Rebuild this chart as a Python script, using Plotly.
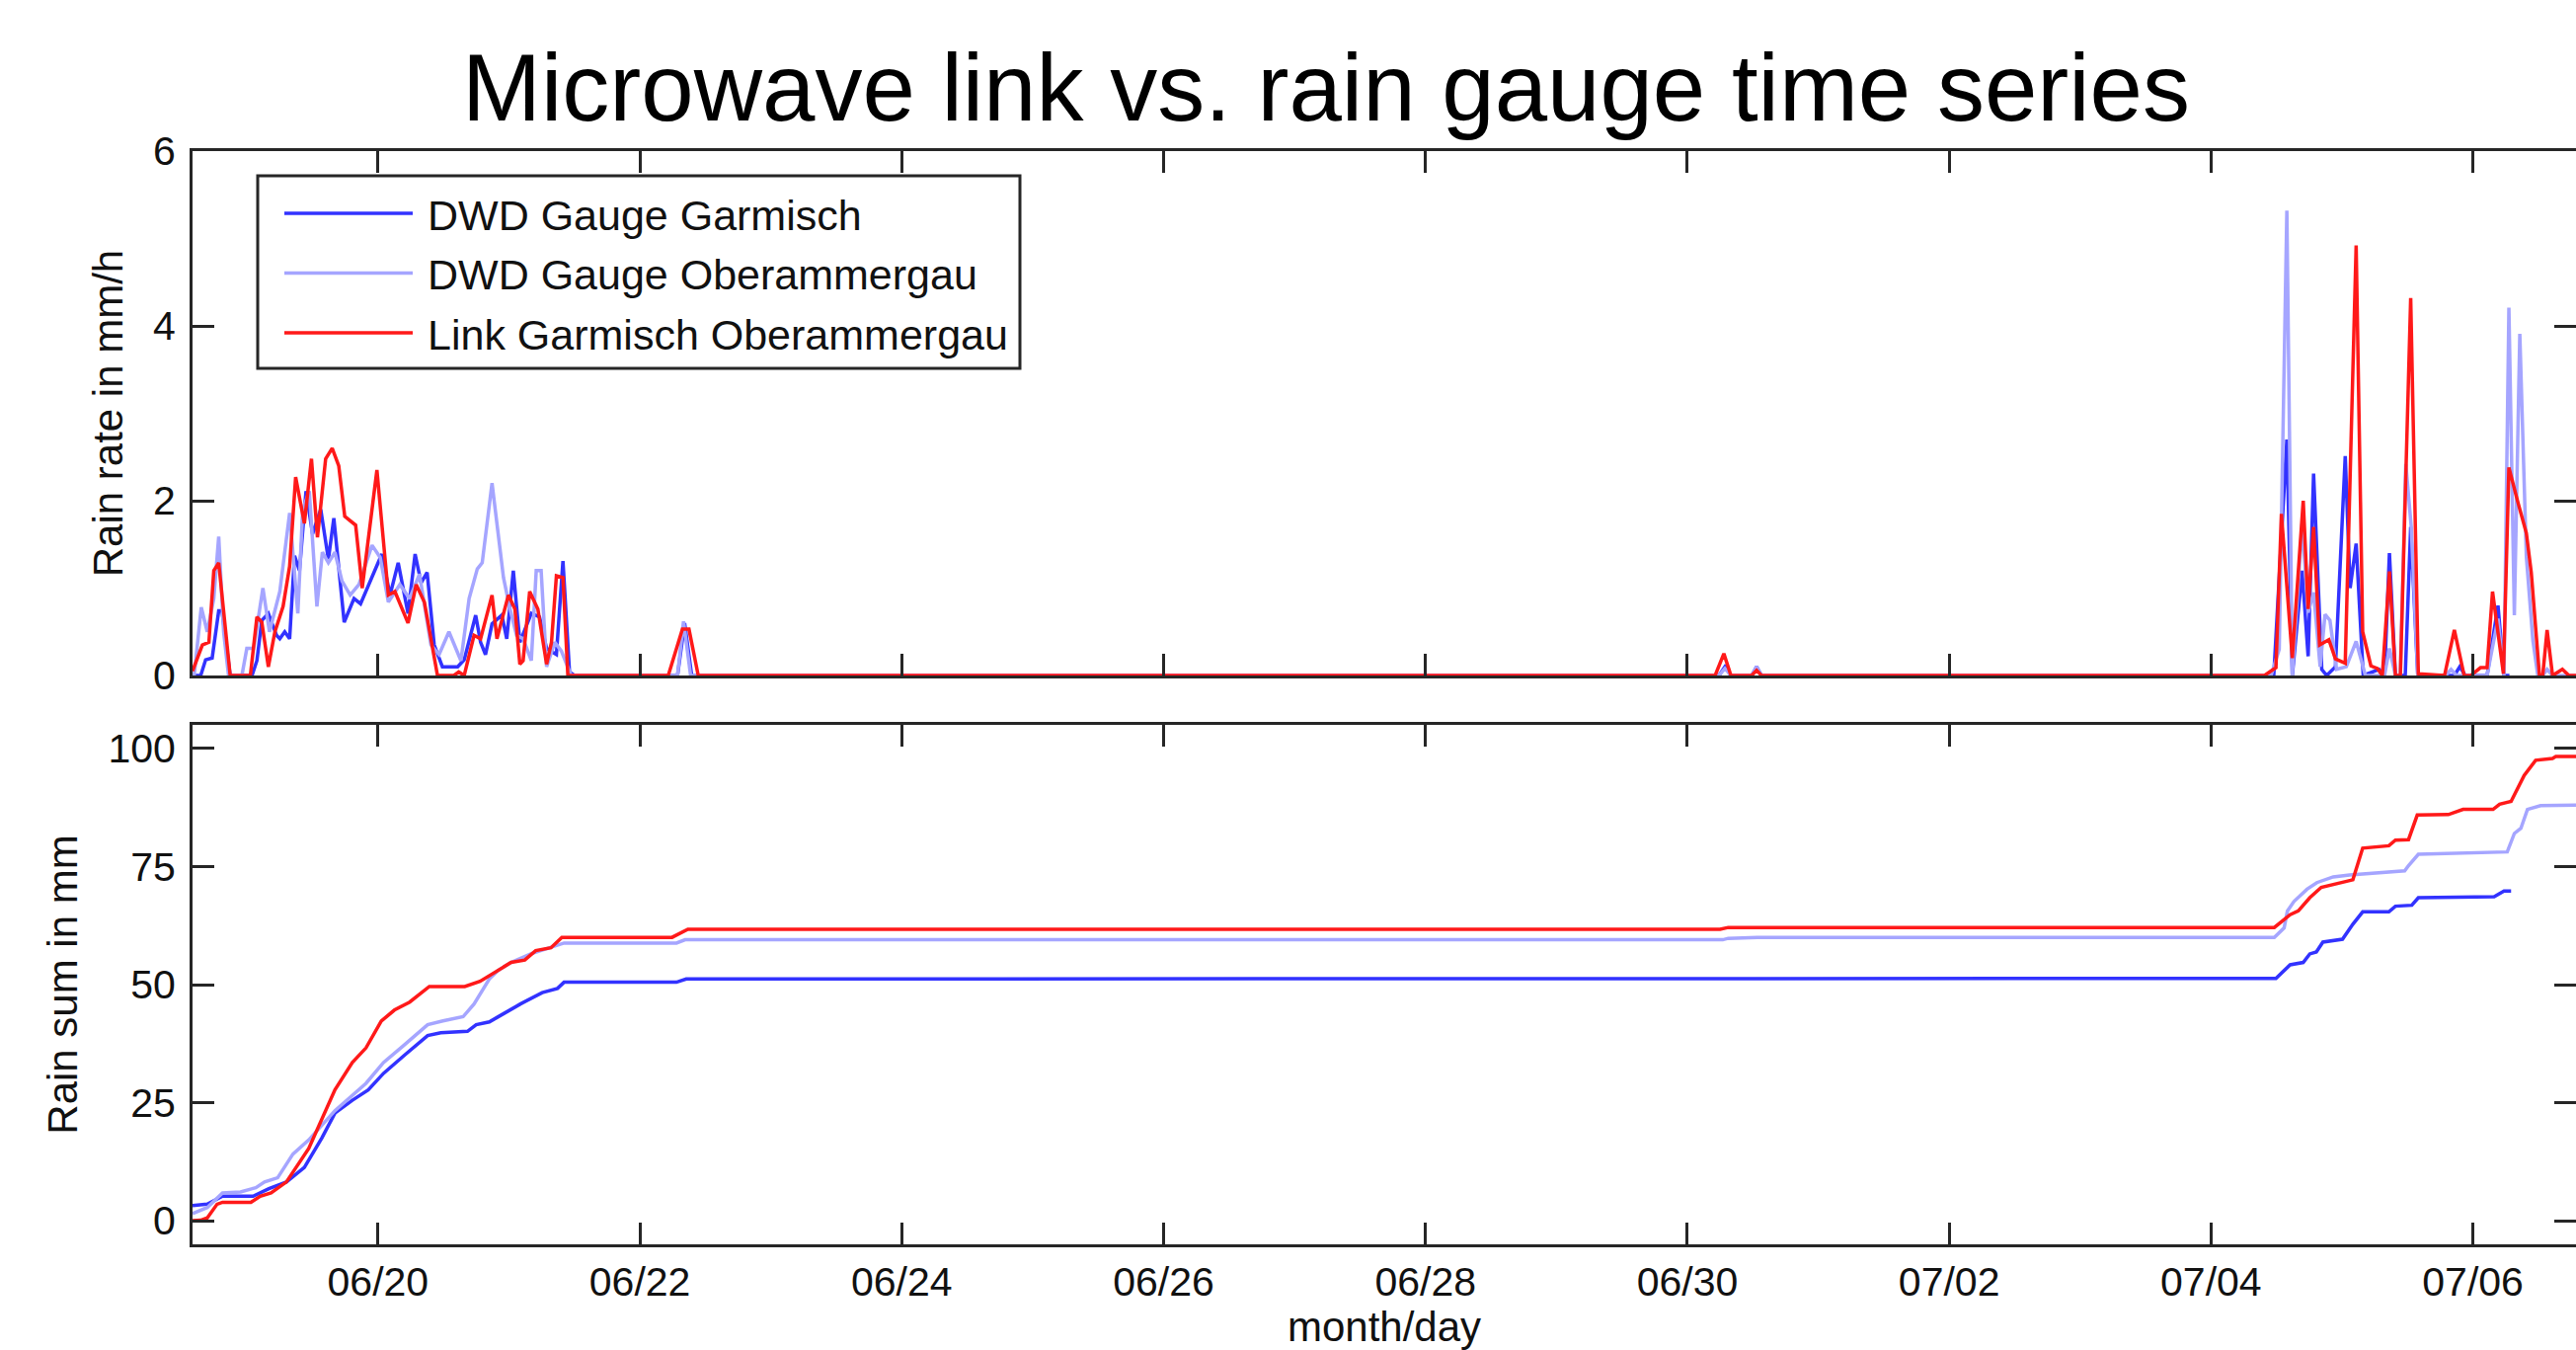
import pandas as pd
import plotly.graph_objects as go

# ---------------- data (hours since 2013-06-18 14:00) ----------------
START = pd.Timestamp("2013-06-18 14:00")
X_END_HOURS = 436.9

series_names = ["DWD Gauge Garmisch", "DWD Gauge Oberammergau", "Link Garmisch Oberammergau"]
series_colors = ["rgb(50,50,255)", "rgb(165,165,255)", "rgb(255,25,25)"]

# Rain rate in mm/h
garmisch_rate_h = [0, 1.5, 2.4, 3.6, 4.8, 5.4, 6.9, 10.9, 11.8, 12.7, 13.9, 15.4, 16.0, 16.9, 17.8, 18.7,
                   19.6, 20.8, 22.0, 23.5, 24.9, 25.9, 27.8, 29.6, 30.8, 32.3, 34.7, 36.2, 37.7, 39.5,
                   40.8, 41.9, 43.0, 44.3, 45.8, 48.6, 49.8, 51.9, 52.8, 53.7, 54.9, 56.7, 57.6, 58.8,
                   60.0, 62.1, 63.6, 64.9, 66.7, 67.9, 69.1, 70.0,
                   88.9, 90.2, 91.5,
                   279.8, 280.9, 282.0, 285.8, 286.7, 287.6,
                   381.5, 383.9, 384.9, 386.7, 387.8, 388.8, 390.3, 391.2, 392.8, 394.6, 395.5, 396.6,
                   397.9, 400.8, 401.8, 402.7, 403.8, 405.6, 406.6, 407.9, 414.6, 415.6, 416.6, 420.6,
                   422.6, 423.7, 424.7]
garmisch_rate_v = [0, 0, 0.18, 0.2, 0.74, 0.74, 0, 0, 0.17, 0.63, 0.71, 0.46, 0.42, 0.5, 0.42, 1.37,
                   1.2, 2.11, 1.62, 1.9, 1.33, 1.8, 0.61, 0.88, 0.82, 1.04, 1.39, 0.92, 1.29, 0.71,
                   1.39, 1.06, 1.18, 0.35, 0.1, 0.1, 0.18, 0.69, 0.38, 0.24, 0.59, 0.69, 0.42, 1.2,
                   0.38, 0.71, 0.67, 0.31, 0.24, 1.31, 0.04, 0,
                   0, 0.6, 0,
                   0, 0.1, 0, 0, 0.1, 0,
                   0, 2.7, 0, 1.2, 0.22, 2.31, 0.07, 0, 0.1, 2.51, 1.0, 1.51,
                   0, 0.07, 0, 1.4, 0, 0, 1.7, 0, 0, 0.1, 0, 0,
                   0.8, 0, 0]

oberammergau_rate_h = [0, 0.3, 1.6, 2.7, 3.9, 4.8, 5.7, 6.6, 9.05, 9.95, 11.2, 12.9, 14.1, 16.0, 17.8,
                       19.3, 20.2, 21.4, 22.8, 23.8, 24.9, 26.1, 27.4, 28.9, 30.5, 32.9, 34.4, 35.9,
                       38.0, 39.8, 41.6, 43.7, 45.2, 47.0, 49.2, 50.7, 52.2, 53.1, 54.9, 57.0, 58.2,
                       59.4, 60.6, 62.1, 63.0, 63.9, 64.9, 66.4, 67.6, 68.8, 69.4,
                       88.9, 90.0, 91.3,
                       279.8, 280.9, 282.0, 285.8, 286.7, 287.6,
                       381.0, 382.5, 383.9, 384.9, 386.7, 387.8, 388.8, 390.0, 390.9, 391.8, 393.0,
                       394.8, 396.6, 398.3, 401.8, 402.7, 403.8, 404.7, 405.7, 406.7, 407.9, 413.0,
                       414.0, 415.0, 420.6, 422.6, 423.7, 424.6, 425.6, 426.6, 427.8, 429.0, 429.9,
                       430.8, 431.6, 432.6, 438.2]
oberammergau_rate_v = [0, 0, 0.78, 0.5, 0.88, 1.59, 0.5, 0, 0, 0.31, 0.31, 1.0, 0.5, 0.96, 1.86,
                       0.71, 1.9, 2.11, 0.79, 1.41, 1.29, 1.41, 1.08, 0.92, 1.04, 1.49, 1.35, 0.84,
                       1.04, 0.88, 1.16, 0.35, 0.24, 0.5, 0.17, 0.88, 1.22, 1.29, 2.2, 1.12, 0.76,
                       0.46, 0.42, 0.17, 1.2, 1.2, 0.1, 0.38, 0.28, 0.08, 0,
                       0, 0.62, 0,
                       0, 0.08, 0, 0, 0.1, 0,
                       0, 0.3, 5.32, 0, 1.74, 0.72, 0.95, 0.1, 0.7, 0.63, 0.07,
                       0.1, 0.39, 0, 0, 0.31, 0, 0, 2.42, 1.7, 0, 0,
                       0.07, 0, 0, 0.65, 0, 4.21, 0.69, 3.91, 1.36, 0.4, 0,
                       0, 0.07, 0, 0]

link_rate_h = [0, 1.8, 3.0, 3.9, 4.8, 6.9, 10.6, 11.8, 12.7, 13.9, 15.1, 16.6, 17.8, 18.9, 20.5, 21.8,
               22.9, 24.4, 25.6, 26.8, 27.9, 29.9, 31.1, 33.8, 35.9, 37.1, 39.5, 41.0, 42.5, 44.9,
               47.9, 48.8, 49.8, 51.6, 52.8, 54.9, 55.8, 57.9, 59.1, 60.0, 60.6, 61.8, 63.3, 64.9,
               65.8, 66.7, 67.9, 68.8,
               87.2, 88.6, 89.8, 91.0, 92.7,
               279.1, 280.7, 282.0, 285.8, 286.7, 287.6,
               379.8, 381.9, 382.9, 384.9, 386.9, 387.8, 388.8, 389.9, 391.6, 392.8, 394.6, 396.6,
               397.8, 399.3, 400.5, 401.4, 402.7, 403.8, 404.7, 406.6, 408.0, 412.8, 414.6, 416.4,
               417.6, 419.4, 420.6, 421.6, 423.6, 424.6, 426.3, 427.8, 428.7, 430.2, 430.8, 431.6,
               432.6, 434.4, 435.6, 438.2]
link_rate_v = [0.05, 0.35, 0.38, 1.2, 1.29, 0, 0, 0.67, 0.61, 0.1, 0.5, 0.79, 1.25, 2.27, 1.74, 2.48,
               1.58, 2.48, 2.6, 2.4, 1.82, 1.72, 1.0, 2.35, 0.92, 0.96, 0.6, 1.04, 0.84, 0,
               0, 0.04, 0, 0.46, 0.42, 0.92, 0.42, 0.92, 0.76, 0.13, 0.17, 0.96, 0.76, 0.13,
               0.38, 1.14, 1.12, 0,
               0, 0.3, 0.53, 0.53, 0,
               0, 0.25, 0, 0, 0.06, 0,
               0, 0.09, 1.85, 0.2, 2.0, 0.76, 1.7, 0.35, 0.41, 0.19, 0.14, 4.92,
               0.5, 0.11, 0.08, 0, 1.19, 0, 0, 4.32, 0.02, 0, 0.52, 0,
               0, 0.09, 0.09, 0.96, 0.02, 2.38, 1.97, 1.63, 1.18, 0, 0, 0.52,
               0, 0.07, 0, 0]

# Rain sum in mm
garmisch_sum_h = [0, 2.7, 5.5, 11.1, 14.0, 17.2, 20.5, 23.7, 26.1, 29.3, 32.2, 35.0, 39.0, 43.1, 45.5,
                  50.4, 52.0, 54.4, 56.8, 60.1, 64.1, 66.9, 68.1, 88.7, 90.5, 280.0, 281.0, 381.9,
                  384.5, 386.9, 388.1, 389.3, 390.5, 394.1, 396.0, 397.8, 402.6, 403.8, 406.8, 408.0,
                  421.9, 423.7, 425.0]
garmisch_sum_v = [3.2, 3.5, 5.2, 5.2, 6.8, 8.2, 11.3, 17.5, 22.8, 25.5, 27.7, 31.2, 35.2, 39.2, 39.8,
                  40.1, 41.5, 42.1, 43.7, 45.9, 48.3, 49.2, 50.5, 50.5, 51.2, 51.2, 51.3, 51.3,
                  54.2, 54.7, 56.5, 56.9, 59.0, 59.6, 62.8, 65.4, 65.4, 66.6, 66.8, 68.4,
                  68.6, 69.8, 69.8]

oberammergau_sum_h = [0, 2.7, 5.5, 8.8, 11.6, 13.2, 15.6, 18.4, 21.3, 26.1, 31.8, 35.0, 38.6, 43.1,
                      45.9, 49.6, 51.6, 54.4, 56.0, 58.4, 62.0, 65.7, 68.1, 88.7, 90.3, 280.5, 281.5,
                      287.0, 381.6, 383.4, 384.0, 385.2, 387.6, 389.4, 392.4, 395.4, 405.5, 406.2,
                      408.0, 424.3, 425.6, 426.8, 428.0, 430.4, 438.2]
oberammergau_sum_v = [1.5, 2.8, 5.9, 6.1, 7.0, 8.2, 9.1, 14.1, 17.1, 23.3, 29.1, 33.5, 37.0, 41.5,
                      42.3, 43.2, 45.9, 51.2, 53.0, 54.7, 56.5, 57.8, 58.8, 58.8, 59.5, 59.5, 59.8,
                      60.0, 60.0, 62.0, 65.6, 67.6, 70.2, 71.6, 72.8, 73.2, 74.1, 75.2,
                      77.6, 78.1, 82.0, 83.1, 87.1, 87.9, 88.0]

link_sum_h = [0, 1.5, 2.7, 4.5, 5.5, 10.7, 12.4, 14.4, 17.2, 21.3, 26.1, 29.3, 31.8, 34.6, 37.0, 39.8,
              43.4, 49.9, 52.7, 55.2, 58.4, 60.9, 62.9, 65.7, 67.7, 87.9, 89.5, 90.8, 280.0, 281.5,
              381.6, 384.5, 386.0, 388.1, 390.2, 393.6, 396.0, 397.8, 402.6, 403.8, 406.2, 407.8,
              413.5, 416.2, 421.7, 422.9, 425.0, 427.4, 429.5, 432.6, 433.2, 438.2]
link_sum_v = [0.0, 0.1, 0.6, 3.5, 3.9, 3.9, 5.2, 5.9, 8.2, 15.3, 27.7, 33.5, 36.6, 42.3, 44.6, 46.3,
              49.6, 49.6, 50.7, 52.5, 54.7, 55.2, 57.2, 57.8, 60.0, 60.0, 61.0, 61.7, 61.7, 62.1,
              62.1, 64.8, 65.6, 68.4, 70.6, 71.6, 72.2, 78.9, 79.4, 80.6, 80.7, 85.9,
              86.0, 87.1, 87.1, 88.2, 88.8, 94.3, 97.5, 97.9, 98.3, 98.3]

x_tick_dates = ["2013-06-20", "2013-06-22", "2013-06-24", "2013-06-26", "2013-06-28",
                "2013-06-30", "2013-07-02", "2013-07-04", "2013-07-06"]
x_tick_labels = ["06/20", "06/22", "06/24", "06/26", "06/28", "06/30", "07/02", "07/04", "07/06"]
rate_ticks = [0, 2, 4, 6]
sum_ticks = [0, 25, 50, 75, 100]


def to_time(hours):
    return START + pd.to_timedelta(hours, unit="h")


W, H = 2609, 1367


def px_x(p):
    return p / W


def px_y(p):
    return 1 - p / H


fig = go.Figure()
rate_sets = [(garmisch_rate_h, garmisch_rate_v), (oberammergau_rate_h, oberammergau_rate_v),
             (link_rate_h, link_rate_v)]
sum_sets = [(garmisch_sum_h, garmisch_sum_v), (oberammergau_sum_h, oberammergau_sum_v),
            (link_sum_h, link_sum_v)]
for name, color, (h, v) in zip(series_names, series_colors, rate_sets):
    fig.add_trace(go.Scatter(x=to_time(h), y=v, mode="lines", name=name, showlegend=False,
                             line=dict(color=color, width=3.5), xaxis="x2", yaxis="y2"))
for name, color, (h, v) in zip(series_names, series_colors, sum_sets):
    fig.add_trace(go.Scatter(x=to_time(h), y=v, mode="lines", name=name, showlegend=False,
                             line=dict(color=color, width=3.5), xaxis="x", yaxis="y"))

FONT = "Liberation Sans, Arial, Helvetica, sans-serif"
AX = "#262626"
axis_common = dict(showline=True, linewidth=3, linecolor=AX, mirror="ticks", ticks="inside",
                   ticklen=22, tickwidth=3, tickcolor=AX, showgrid=False, zeroline=False,
                   automargin=False, tickfont=dict(family=FONT, size=41, color="#111111"))
x_range = [to_time(0), to_time(X_END_HOURS)]
x_dom = [px_x(195), 1.0]

fig.update_layout(
    width=W, height=H, margin=dict(l=0, r=0, t=0, b=0),
    paper_bgcolor="white", plot_bgcolor="white",
    font=dict(family=FONT, size=41, color="#111111"),
    title=dict(text="Microwave link vs. rain gauge time series", x=1343 / W, xanchor="center",
               xref="paper", y=px_y(88), yanchor="middle", yref="paper",
               font=dict(family=FONT, size=96, color="#000000")),
    xaxis=dict(axis_common, domain=x_dom, range=x_range, anchor="y",
               tickvals=x_tick_dates, ticktext=x_tick_labels,
               title=dict(text="month/day", standoff=8, font=dict(size=42))),
    yaxis=dict(axis_common, domain=[px_y(1260), px_y(734)], range=[-5, 105], anchor="x",
               tickvals=sum_ticks, ticklabelstandoff=6,
               title=dict(text="Rain sum in mm", standoff=18, font=dict(size=42))),
    xaxis2=dict(axis_common, domain=x_dom, range=x_range, anchor="y2", matches="x",
                tickvals=x_tick_dates, showticklabels=False),
    yaxis2=dict(axis_common, domain=[px_y(684), px_y(153)], range=[0, 6], anchor="x2",
                tickvals=rate_ticks, ticklabelstandoff=6,
                title=dict(text="Rain rate in mm/h", standoff=18, font=dict(size=42))),
)

# legend box (drawn like the original MATLAB legend)
leg_l, leg_t, leg_r, leg_b = 261, 178, 1033, 373
fig.add_shape(type="rect", xref="paper", yref="paper", x0=px_x(leg_l), x1=px_x(leg_r),
              y0=px_y(leg_b), y1=px_y(leg_t), line=dict(color=AX, width=3),
              fillcolor="white", layer="above")
row_y = [216, 276.5, 337]
for name, color, ry in zip(series_names, series_colors, row_y):
    fig.add_shape(type="line", xref="paper", yref="paper", x0=px_x(288), x1=px_x(418),
                  y0=px_y(ry), y1=px_y(ry), line=dict(color=color, width=3.5), layer="above")
    fig.add_annotation(text=name, xref="paper", yref="paper", x=px_x(431), y=px_y(ry + 2),
                       xanchor="left", yanchor="middle", showarrow=False,
                       font=dict(family=FONT, size=43, color="#111111"))

fig.write_html("out.html")
